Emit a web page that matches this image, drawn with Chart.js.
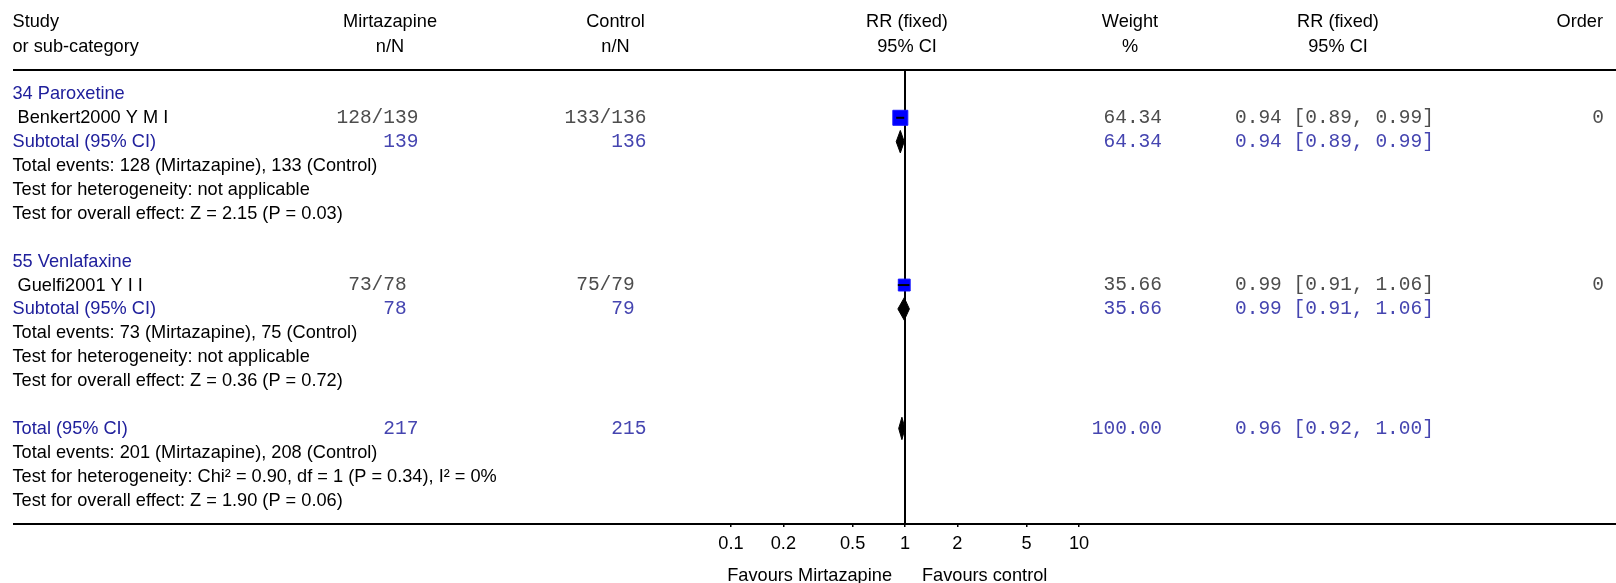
<!DOCTYPE html>
<html>
<head>
<meta charset="utf-8">
<script src="https://cdn.jsdelivr.net/npm/chart.js@4.4.1/dist/chart.umd.min.js"></script>
<style>
html,body{margin:0;padding:0;background:#fff;overflow:hidden}
canvas{display:block}
</style>
</head>
<body>
<canvas id="c" width="1616" height="583" style="width:1616px;height:583px"></canvas>
<script>
// ---------- DATA ----------
const headerRow1 = ["Study", "Mirtazapine", "Control", "RR (fixed)", "Weight", "RR (fixed)", "Order"];
const headerRow2 = ["or sub-category", "n/N", "n/N", "95% CI", "%", "95% CI", ""];

const rowLabels = [
  "34 Paroxetine",
  " Benkert2000 Y M I",
  "Subtotal (95% CI)",
  "Total events: 128 (Mirtazapine), 133 (Control)",
  "Test for heterogeneity: not applicable",
  "Test for overall effect: Z = 2.15 (P = 0.03)",
  "",
  "55 Venlafaxine",
  " Guelfi2001 Y I I",
  "Subtotal (95% CI)",
  "Total events: 73 (Mirtazapine), 75 (Control)",
  "Test for heterogeneity: not applicable",
  "Test for overall effect: Z = 0.36 (P = 0.72)",
  "",
  "Total (95% CI)",
  "Total events: 201 (Mirtazapine), 208 (Control)",
  "Test for heterogeneity: Chi\u00B2 = 0.90, df = 1 (P = 0.34), I\u00B2 = 0%",
  "Test for overall effect: Z = 1.90 (P = 0.06)"
];
const rowKinds = ["group","study","pooled","note","note","note","blank",
                  "group","study","pooled","note","note","note","blank",
                  "pooled","note","note","note"];
const mirtazapineCol = ["","128/139","    139","","","","","",
                        " 73/78 ","    78 ","","","","","    217","","",""];
const controlCol     = ["","133/136","    136","","","","","",
                        " 75/79 ","    79 ","","","","","    215","","",""];
const weightCol      = ["","64.34","64.34","","","","","",
                        "35.66","35.66","","","","","100.00","","",""];
const rrCol          = ["","0.94 [0.89, 0.99]","0.94 [0.89, 0.99]","","","","","",
                        "0.99 [0.91, 1.06]","0.99 [0.91, 1.06]","","","","","0.96 [0.92, 1.00]","","",""];
const orderCol       = ["","0","","","","","","","0","","","","","","","","",""];

// individual studies
const studyNames  = ["Benkert2000 Y M I", "Guelfi2001 Y I I"];
const studyRow    = [1, 8];
const studyRR     = [0.94, 0.99];
const studyLo     = [0.89, 0.91];
const studyHi     = [0.99, 1.06];
const studyWeight = [64.34, 35.66];

// pooled estimates (subtotals and total)
const pooledNames = ["Subtotal 34 Paroxetine", "Subtotal 55 Venlafaxine", "Total"];
const pooledRow   = [2, 9, 14];
const pooledRR    = [0.94, 0.99, 0.96];
const pooledLo    = [0.89, 0.91, 0.92];
const pooledHi    = [0.99, 1.06, 1.00];

// axis ticks
const tickValues = [0.1, 0.2, 0.5, 1, 2, 5, 10];
const tickLabels = ["0.1", "0.2", "0.5", "1", "2", "5", "10"];
const favoursLeft = "Favours Mirtazapine";
const favoursRight = "Favours control";

// ---------- STYLE ----------
const SANS = "'Liberation Sans', Arial, sans-serif";
const MONO = "'Liberation Mono', 'Courier New', monospace";
const SANS_SIZE = 18.2;
const MONO_SIZE = 19.5;
const BLUE = "#20209c";
const MONO_BLUE = "#4545b0";
const MONO_BLACK = "#4d4d4d";
const squareRadius = [10.6, 8.4];
const diamondHalf = 0.47;

// ---------- DATASETS ----------
const datasets = [];
studyRR.forEach((v, i) => {
  datasets.push({
    label: studyNames[i] + " CI",
    data: [{x: studyLo[i], y: studyRow[i]}, {x: studyHi[i], y: studyRow[i]}],
    showLine: true, borderColor: "#000", borderWidth: 2, pointRadius: 0, fill: false
  });
});
datasets.push({
  label: "Studies",
  data: studyRR.map((v, i) => ({x: v, y: studyRow[i]})),
  pointStyle: "rect",
  pointRadius: squareRadius,
  backgroundColor: "#0000ff",
  borderColor: "#1515ff",
  borderWidth: 1,
  showLine: false
});
pooledRR.forEach((v, i) => {
  const r = pooledRow[i];
  datasets.push({
    label: pooledNames[i],
    data: [
      {x: pooledLo[i], y: r},
      {x: v, y: r - diamondHalf},
      {x: pooledHi[i], y: r},
      {x: v, y: r + diamondHalf},
      {x: pooledLo[i], y: r}
    ],
    showLine: true, fill: "shape", backgroundColor: "#000", borderColor: "#000",
    borderWidth: 1, pointRadius: 0, tension: 0
  });
});
datasets.push({
  label: "No effect",
  data: [{x: 1, y: -1}, {x: 1, y: 18}],
  showLine: true, borderColor: "#000", borderWidth: 2, pointRadius: 0, fill: false
});

// ---------- TABLE PLUGIN ----------
const tablePlugin = {
  id: "forestTable",
  afterDraw(chart) {
    const ctx = chart.ctx;
    const ys = chart.scales.y;
    const xs = chart.scales.x;
    ctx.save();
    ctx.textBaseline = "middle";
    ctx.fillStyle = "#000";
    ctx.font = SANS_SIZE + "px " + SANS;
    // headers
    const hx = [12.5, 390, 615.5, 907, 1130, 1338, 1603];
    const ha = ["left", "center", "center", "center", "center", "center", "right"];
    headerRow1.forEach((t, i) => { ctx.textAlign = ha[i]; ctx.fillText(t, hx[i], 22); });
    headerRow2.forEach((t, i) => { ctx.textAlign = ha[i]; ctx.fillText(t, hx[i], 46.5); });

    rowLabels.forEach((lab, i) => {
      const py = ys.getPixelForValue(i);
      const kind = rowKinds[i];
      const blue = (kind === "group" || kind === "pooled");
      ctx.font = SANS_SIZE + "px " + SANS;
      ctx.fillStyle = blue ? BLUE : "#000";
      ctx.textAlign = "left";
      ctx.fillText(lab, 12.5, py + 0.5);
      ctx.font = MONO_SIZE + "px " + MONO;
      ctx.fillStyle = kind === "pooled" ? MONO_BLUE : MONO_BLACK;
      ctx.textAlign = "left";
      ctx.fillText(mirtazapineCol[i], 336.5, py);
      ctx.fillText(controlCol[i], 564.5, py);
      ctx.fillText(rrCol[i], 1235, py);
      ctx.textAlign = "right";
      ctx.fillText(weightCol[i], 1162, py);
      ctx.fillText(orderCol[i], 1604, py);
    });

    // favours labels
    const x1 = xs.getPixelForValue(1);
    ctx.font = SANS_SIZE + "px " + SANS;
    ctx.fillStyle = "#000";
    ctx.textAlign = "right";
    ctx.fillText(favoursLeft, x1 - 13, 576);
    ctx.textAlign = "left";
    ctx.fillText(favoursRight, x1 + 17, 576);
    ctx.restore();
  }
};

const logMin = Math.pow(10, -(905 - 14) / 174);
const logMax = Math.pow(10, (1616 - 905) / 174);

new Chart(document.getElementById("c"), {
  type: "scatter",
  data: { datasets },
  options: {
    responsive: false,
    maintainAspectRatio: false,
    animation: false,
    devicePixelRatio: 1,
    layout: { autoPadding: false, padding: { left: 14, right: 0, top: 70, bottom: 0 } },
    plugins: { legend: { display: false }, tooltip: { enabled: false } },
    scales: {
      x: {
        type: "logarithmic", position: "bottom", min: logMin, max: logMax, bounds: "data",
        afterBuildTicks: (axis) => { axis.ticks = tickValues.map(v => ({ value: v })); },
        afterFit: (axis) => { axis.height = 59; },
        ticks: {
          callback: (value, index) => tickLabels[index],
          autoSkip: false, maxRotation: 0, minRotation: 0,
          font: { family: SANS, size: SANS_SIZE }, color: "#000", padding: 6
        },
        grid: { display: true, drawOnChartArea: false, drawTicks: true, tickLength: 3, color: "#000", lineWidth: 1.5 },
        border: { display: true, color: "#000", width: 2 }
      },
      xTop: {
        type: "logarithmic", position: "top", min: logMin, max: logMax, bounds: "data",
        afterFit: (axis) => { axis.height = 0; },
        ticks: { display: false },
        grid: { display: true, drawOnChartArea: false, drawTicks: false },
        border: { display: true, color: "#000", width: 2 }
      },
      y: { type: "linear", min: -1, max: 18, reverse: true, display: false }
    }
  },
  plugins: [tablePlugin]
});
</script>
</body>
</html>
